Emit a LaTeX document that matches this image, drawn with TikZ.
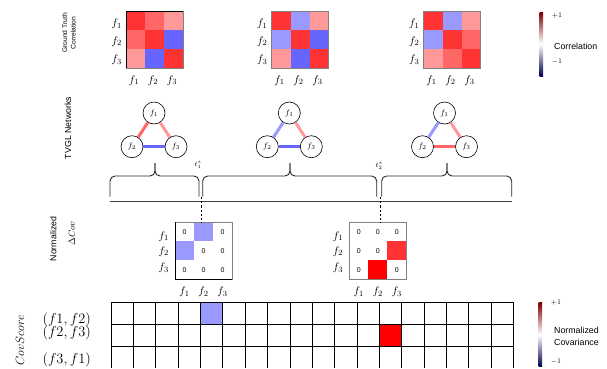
\documentclass[tikz,border=0pt]{standalone}
\usepackage{fontspec}
\setsansfont{Liberation Sans}
\definecolor{rA}{HTML}{FF3333}
\definecolor{rB}{HTML}{FF6666}
\definecolor{rC}{HTML}{FF9999}
\definecolor{bA}{HTML}{6666FF}
\definecolor{bB}{HTML}{9999FF}
\definecolor{rD}{HTML}{FF0000}
\definecolor{cbdr}{rgb}{0.5,0,0}
\definecolor{cbdb}{rgb}{0,0,0.3}
\newcommand\hmap[3]{%
  \foreach \clr [count=\k from 0] in {#3}{%
    \pgfmathsetmacro\cx{#1+19*mod(\k,3)}%
    \pgfmathsetmacro\cy{#2+19*int(\k/3)}%
    \fill[\clr] (\cx,\cy) rectangle ++(19,19);
  }%
  \draw[gray, line width=0.8pt] (#1,#2) rectangle ++(57,57);
}
\begin{document}
\begin{tikzpicture}[x=1pt,y=-1pt,
  mlab/.style={inner sep=0pt, font=\fontsize{11}{13}\selectfont},
  zlab/.style={inner sep=0pt, font=\sffamily\fontsize{7}{8}\selectfont},
  sidelab/.style={inner sep=0pt, rotate=90, font=\sffamily\fontsize{8.8}{10}\selectfont},
  cblab/.style={inner sep=0pt, anchor=west, font=\sffamily\fontsize{8.8}{10}\selectfont},
  cbnum/.style={inner sep=0pt, anchor=west, font=\fontsize{7.5}{9}\selectfont},
  gnode/.style={circle, draw, line width=0.6pt, fill=white, minimum size=22pt, inner sep=0pt, font=\fontsize{8.5}{9}\selectfont},
  gedge/.style={line width=3pt},
  bracepath/.style={line width=0.9pt, rounded corners=5pt, color=black!85},
  gridl/.style={line width=0.9pt, black},
  dashl/.style={line width=0.8pt, dash pattern=on 2.2pt off 2pt}]
\useasboundingbox (0,0) rectangle (607,368);

% ---------- side labels ----------
\node[sidelab, align=center, font=\sffamily\fontsize{6.7}{8.3}\selectfont] (gtlab) at (69,33) {Ground Truth\\Correlation};
\node[sidelab] (tvgllab) at (68,128) {TVGL Networks};
\node[sidelab] (normlab) at (53.3,239) {Normalized};
\node[sidelab, font=\fontsize{9.5}{11}\selectfont] (dcovlab) at (71.7,233.3) {$\Delta Cov$};
\node[sidelab, font=\fontsize{12.5}{14}\selectfont] (cslab) at (20,340) {$CovScore$};

% ---------- ground truth matrices ----------
\hmap{126}{11}{rA,rB,rC,rB,rA,bA,rC,bA,rA}
\hmap{271.5}{11}{rA,bB,rC,bB,rA,bA,rC,bA,rA}
\hmap{423.5}{11}{rA,bB,rC,bB,rA,rB,rC,rB,rA}
\draw[black, line width=0.6pt] (126,68) -- (126,11) -- (183,11);
\foreach \mx/\nm in {126/a,271.5/b,423.5/c}{
  \node[mlab, anchor=east] (\nm-l1) at (\mx-4,24) {$f_1$};
  \node[mlab, anchor=east] (\nm-l2) at (\mx-4,41.5) {$f_2$};
  \node[mlab, anchor=east] (\nm-l3) at (\mx-4,60) {$f_3$};
  \node[mlab] (\nm-b1) at (\mx+8,80.5) {$f_1$};
  \node[mlab] (\nm-b2) at (\mx+27,80.5) {$f_2$};
  \node[mlab] (\nm-b3) at (\mx+46,80.5) {$f_3$};
}

% ---------- colorbar top ----------
\shade[top color=cbdr, middle color=red, bottom color=white] (539.5,12) rectangle (543,44);
\shade[top color=white, middle color=blue, bottom color=cbdb] (539.5,44) rectangle (543,76);
\node[cbnum] (cbtp) at (551.7,16) {$+1$};
\node[cbnum] (cbtm) at (551.7,62) {$-1$};
\node[cblab] (cbtl) at (554,46) {Correlation};

% ---------- TVGL networks ----------
\foreach \gx/\nm/\ca/\cb/\cc in {154/g/rB/rC/bA, 289.3/h/bB/rC/bA, 444.5/k/bB/rC/rB}{
  \node[gnode] (\nm1) at (\gx,113) {$f_1$};
  \node[gnode] (\nm2) at (\gx-22,146.7) {$f_2$};
  \node[gnode] (\nm3) at (\gx+22,146.7) {$f_3$};
  \draw[gedge, \ca] (\nm1) -- (\nm2);
  \draw[gedge, \cb] (\nm1) -- (\nm3);
  \draw[gedge, \cc] (\nm2) -- (\nm3);
}

% ---------- braces ----------
\draw[bracepath] (110,196.7) -- (110,176) -- (155,176) -- (155,163);
\draw[bracepath] (199,196.7) -- (199,176) -- (155,176) -- (155,163);
\draw[bracepath] (202.7,196.7) -- (202.7,176) -- (290,176) -- (290,163);
\draw[bracepath] (376.7,196.7) -- (376.7,176) -- (290,176) -- (290,163);
\draw[bracepath] (381.7,196.7) -- (381.7,176) -- (447,176) -- (447,163);
\draw[bracepath] (511.7,196.7) -- (511.7,176) -- (447,176) -- (447,163);
\coordinate (tlL) at (110,201.7);
\coordinate (tlR) at (512,201.7);
\draw[line width=1.1pt, black!75] (tlL) -- (tlR);
\node[inner sep=0pt, font=\fontsize{7}{8}\selectfont] (t1) at (198.3,165) {$t_1^*$};
\node[inner sep=0pt, font=\fontsize{7}{8}\selectfont] (t2) at (379.3,166) {$t_2^*$};

% ---------- delta cov matrices ----------
\hmap{175}{222.3}{white,bB,white,bB,white,white,white,white,white}
\hmap{349.3}{222.3}{white,white,white,white,white,rA,white,rD,white}
\draw[black, line width=0.6pt] (175,222.3) -- (175,279.3) -- (232,279.3);
\foreach \mx/\nm in {175/d,349.3/e}{
  \node[mlab, anchor=east] (\nm-l1) at (\mx-6,236.5) {$f_1$};
  \node[mlab, anchor=east] (\nm-l2) at (\mx-6,251.5) {$f_2$};
  \node[mlab, anchor=east] (\nm-l3) at (\mx-6,268) {$f_3$};
  \node[mlab] (\nm-b1) at (\mx+9.5,291.7) {$f_1$};
  \node[mlab] (\nm-b2) at (\mx+28.5,291.7) {$f_2$};
  \node[mlab] (\nm-b3) at (\mx+47.5,291.7) {$f_3$};
}
\foreach \c/\r in {0/0,2/0,1/1,2/1,0/2,1/2,2/2}
  \node[zlab] (dz\c\r) at (175+9.5+19*\c,222.3+9.5+19*\r) {0};
\foreach \c/\r in {0/0,1/0,2/0,0/1,1/1,0/2,2/2}
  \node[zlab] (ez\c\r) at (349.3+9.5+19*\c,222.3+9.5+19*\r) {0};
\coordinate (d1a) at (201.5,197);
\coordinate (d1b) at (201.5,222.3);
\coordinate (d2a) at (380.3,197);
\coordinate (d2b) at (380.3,222.3);
\draw[dashl] (d1a) -- (d1b);
\draw[dashl] (d2a) -- (d2b);

% ---------- CovScore grid ----------
\fill[bB] (111+4*22.37,302.7) rectangle ++(22.37,22);
\fill[rD] (111+12*22.37,324.7) rectangle ++(22.37,22);
\foreach \i in {0,...,18}
  \draw[gridl] (111+22.37*\i,302.7) -- (111+22.37*\i,368);
\foreach \y in {302.7,324.7,346.7}
  \draw[gridl] (111,\y) -- (513.7,\y);
\node[inner sep=0pt, font=\fontsize{14}{16}\selectfont] (r1) at (66.7,320) {$(f1,f2)$};
\node[inner sep=0pt, font=\fontsize{14}{16}\selectfont] (r2) at (66.7,333) {$(f2,f3)$};
\node[inner sep=0pt, font=\fontsize{14}{16}\selectfont] (r3) at (66.7,360) {$(f3,f1)$};

% ---------- colorbar bottom ----------
\shade[top color=cbdr, middle color=red, bottom color=white] (538.5,302.7) rectangle (542,334.7);
\shade[top color=white, middle color=blue, bottom color=cbdb] (538.5,334.7) rectangle (542,366.7);
\node[cbnum] (cbbp) at (550.7,302.5) {$+1$};
\node[cbnum] (cbbm) at (550.7,362) {$-1$};
\node[cblab] (cbbl1) at (554,330) {Normalized};
\node[cblab] (cbbl2) at (554,342.5) {Covariance};
\end{tikzpicture}
\end{document}
